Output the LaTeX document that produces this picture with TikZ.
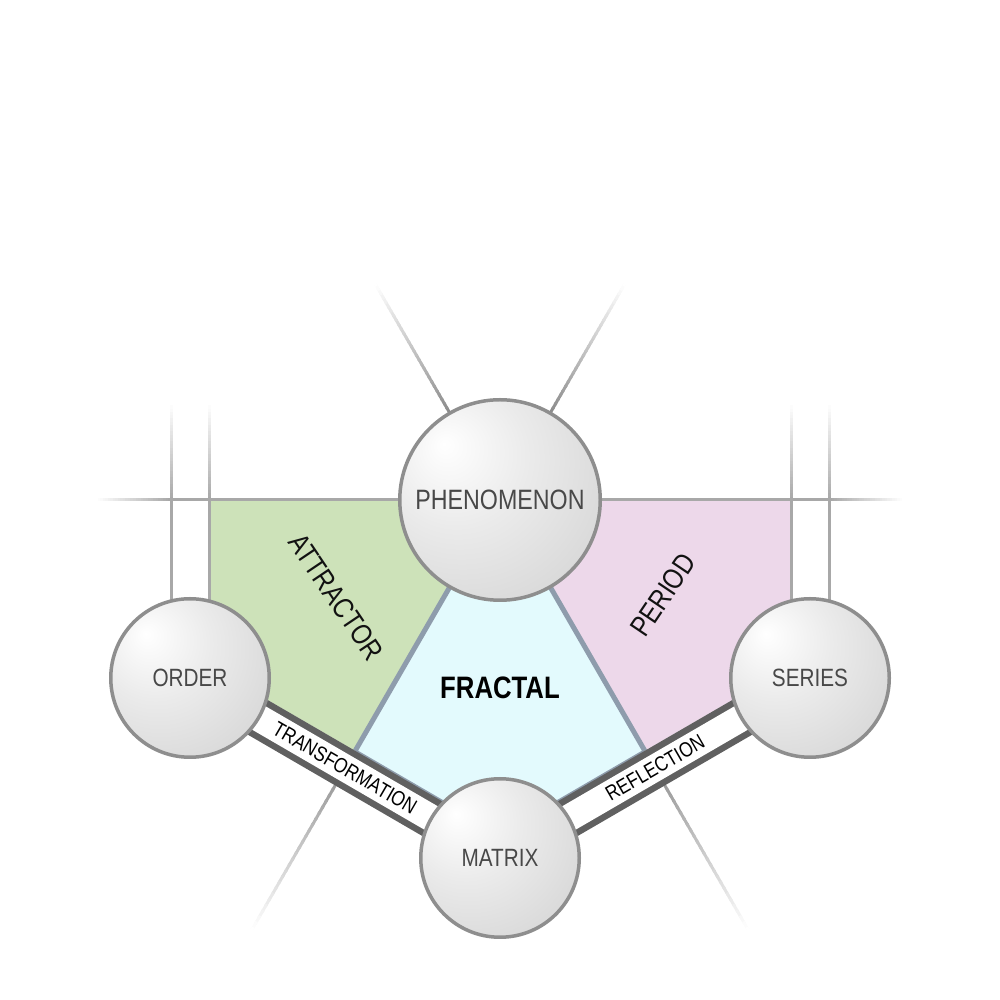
\documentclass[tikz,border=0pt]{standalone}
\usepackage{fontspec}
\setmainfont{Liberation Sans}[FakeStretch=0.83]
\usetikzlibrary{calc,backgrounds}
\definecolor{cgreen}{HTML}{CDE2B9}
\definecolor{cpink}{HTML}{EDD8EA}
\definecolor{ccyan}{HTML}{E3FAFD}
\definecolor{cedge}{HTML}{8E9CAC}
\definecolor{cline}{HTML}{A8A8A8}
\definecolor{cdiag}{HTML}{8C8C8C}
\definecolor{cband}{HTML}{606060}
\definecolor{cborder}{HTML}{8E8E8E}
\definecolor{ctext}{HTML}{484848}
\pgfdeclareradialshading{sphereshade}{\pgfpoint{-14bp}{14bp}}{color(0bp)=(white); color(18bp)=(gray!16); color(45bp)=(gray!36); color(66bp)=(gray!52); color(80bp)=(gray!52)}
\newcommand\myfade[4]{%
  \foreach \i in {0,...,29}{%
    \pgfmathsetmacro\myfa{\i/30}%
    \pgfmathsetmacro\myfb{(\i+1.4)/30}%
    \pgfmathtruncatemacro\myfc{100-100*\i/29}%
    \draw[line width=#4, draw=#3!\myfc!white] ($(#1)!\myfa!(#2)$) -- ($(#1)!\myfb!(#2)$);
  }}
\tikzset{
  ball/.style={circle, draw=cborder, line width=3.5pt, shading=sphereshade, inner sep=0pt, text=ctext},
  bigball/.style={ball, minimum size=200.5pt, font=\fontsize{28}{30}\selectfont},
  smallball/.style={ball, minimum size=158.5pt, font=\fontsize{25}{28}\selectfont},
  grayline/.style={line width=3pt, draw=cline},
  fractedge/.style={line width=5pt, draw=cedge},
  bandouter/.style={line width=40pt, draw=cband},
  bandinner/.style={line width=27pt, draw=white},
  bandtext/.style={font=\fontsize{21}{23}\selectfont, text=black, sloped},
  regiontext/.style={font=\fontsize{29}{32}\selectfont, text=black!93}
}
\begin{document}
\begin{tikzpicture}[x=1pt,y=1pt]
\useasboundingbox (0,0) rectangle (1000,1000);
% circles
\node[bigball] (P) at (500,500) {PHENOMENON};
\node[smallball] (O) at (190,322) {ORDER};
\node[smallball] (S) at (810,322) {SERIES};
\node[smallball] (M) at (500,142) {MATRIX};
% key coordinates
\coordinate (L) at (355.2,249.2);
\coordinate (R) at (644.8,249.2);
\coordinate (B) at (500,165.1);
\coordinate (Ot) at (200.04,339.29);
\coordinate (St) at (799.96,339.29);
\coordinate (Pl) at (171,500);
\coordinate (Pr) at (829,500);
\coordinate (Hl) at (95,500);
\coordinate (Hr) at (905,500);
\begin{scope}[on background layer]
  % regions
  \fill[cgreen] (209,500) -- (P.center) -- (L) -- (Ot) -- (209,339.29) -- cycle;
  \fill[cpink] (791,500) -- (P.center) -- (R) -- (St) -- (791,339.29) -- cycle;
  \fill[ccyan] (P.center) -- (L) -- (B) -- (R) -- cycle;
  % horizontal line
  \draw[grayline] (Pl) -- (Pr);
  \myfade{Pl}{Hl}{cline}{3pt}
  \myfade{Pr}{Hr}{cline}{3pt}
  % vertical lines
  \foreach \xx in {171,209,791,829}{
    \draw[grayline] (\xx,380) -- (\xx,501);
  }
  \coordinate (V1a) at (171,500); \coordinate (V1b) at (171,598);
  \coordinate (V2a) at (209,500); \coordinate (V2b) at (209,598);
  \coordinate (V3a) at (791,500); \coordinate (V3b) at (791,598);
  \coordinate (V4a) at (829,500); \coordinate (V4b) at (829,598);
  \myfade{V1a}{V1b}{cline}{3pt}
  \myfade{V2a}{V2b}{cline}{3pt}
  \myfade{V3a}{V3b}{cline}{3pt}
  \myfade{V4a}{V4b}{cline}{3pt}
  % radial lines
  \coordinate (T1a) at ($(P.center)+(120:100)$); \coordinate (T1b) at ($(P.center)+(120:252)$);
  \coordinate (T2a) at ($(P.center)+(60:100)$);  \coordinate (T2b) at ($(P.center)+(60:252)$);
  \coordinate (D1a) at ($(P.center)+(240:300)$); \coordinate (D1b) at ($(P.center)+(240:500)$);
  \coordinate (D2a) at ($(P.center)+(300:300)$); \coordinate (D2b) at ($(P.center)+(300:500)$);
  \myfade{T1a}{T1b}{cdiag}{3pt}
  \myfade{T2a}{T2b}{cdiag}{3pt}
  \myfade{D1a}{D1b}{cdiag}{3pt}
  \myfade{D2a}{D2b}{cdiag}{3pt}
  % fractal edges
  \draw[fractedge] (P.center) -- (L);
  \draw[fractedge] (P.center) -- (R);
  \draw[line width=3pt, draw=cedge] (L) -- (B) -- (R);
  % bands
  \draw[bandouter] (O.center) -- (M.center);
  \draw[bandinner] (O.center) -- (M.center);
  \draw[bandouter] (M.center) -- (S.center);
  \draw[bandinner] (M.center) -- (S.center);
\end{scope}
% band labels
\path (O) -- node[bandtext] (tr) {TRANSFORMATION} (M);
\path (M) -- node[bandtext] (rf) {REFLECTION} (S);
% region labels
\node[regiontext, rotate=-56] (at) at (336,403) {ATTRACTOR};
\node[regiontext, rotate=56] (pe) at (663,405) {PERIOD};
\node[font=\bfseries\fontsize{31}{34}\selectfont, text=black] (fr) at (500,312) {FRACTAL};
\end{tikzpicture}
\end{document}
